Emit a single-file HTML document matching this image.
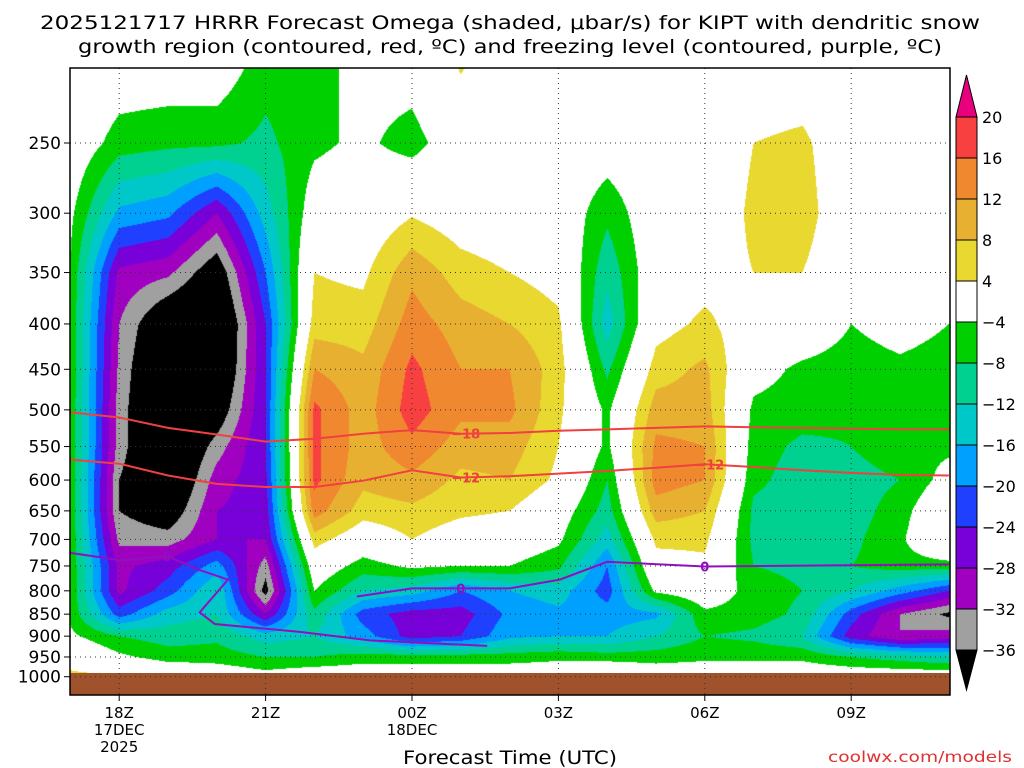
<!DOCTYPE html>
<html><head><meta charset="utf-8"><style>
body{margin:0;background:#fff;width:1024px;height:768px;overflow:hidden;font-family:"DejaVu Sans","Liberation Sans",sans-serif;}
#wrap{position:relative;width:1024px;height:768px;}
canvas{position:absolute;left:0;top:0;}
svg{position:absolute;left:0;top:0;}
</style></head><body>
<div id="wrap">
<canvas id="cv" width="1024" height="768"></canvas>
<svg id="sv" width="1024" height="768" font-family="DejaVu Sans, Liberation Sans, sans-serif">
<text x="40" y="29" font-size="19" textLength="940" lengthAdjust="spacingAndGlyphs">2025121717 HRRR Forecast Omega (shaded, μbar/s) for KIPT with dendritic snow</text>
<text x="78" y="53" font-size="19" textLength="864" lengthAdjust="spacingAndGlyphs">growth region (contoured, red, ºC) and freezing level (contoured, purple, ºC)</text>
<text x="403" y="764" font-size="19" textLength="214" lengthAdjust="spacingAndGlyphs">Forecast Time (UTC)</text>
<text x="828" y="762" font-size="15" fill="#e03030" textLength="184" lengthAdjust="spacingAndGlyphs">coolwx.com/models</text>
</svg>
</div>
<script>
// ---- data ----
const hours = [0,1,2,3,4,5,6,7,8,9,10,11,12,13,14,15,16,17,18];
const levels = [200,250,300,350,400,450,500,550,600,650,700,750,800,850,900,950,1000];
const omegaH0  = [2,0,-3,-4.5,-5,-5,-5,-5,-5,-5,-5,-5,-5,-5,-3,2,5];
const omegaH1  = [0,-6,-17,-29,-32,-33,-34,-34,-36,-36,-33,-29,-29,-22,-8,-3,5];
const omegaH2  = [0,-7,-19,-31,-42,-45,-45,-45,-44,-40,-34,-26,-22,-14,-10,-6,2];
const omegaH3  = [0,-7,-28,-40,-45,-44,-40,-34,-30,-28,-28,-18,-12,-12,-9,-6,0];
const omegaH4  = [-6,-9,-14,-20,-24,-24,-24,-24,-25,-26,-28,-34,-38,-28,-14,-8,-2];
const omegaH5  = [-6,-5,-1,4,6,12,17,17,17,14,6,0,-4,-9,-12,-8,0];
const omegaH6  = [-2,-3,0,3,6,9,10,10,9,6,0,-6,-12,-22,-18,-6,0];
const omegaH7  = [-1,-6,3.5,11,14,17,18,15,11,7,4,-3,-14,-26,-26,-6,0];
const omegaH8  = [5,0,1,6,10,12,13,10,7,5,1,-4,-20,-26,-24,-6,0];
const omegaH9  = [0,0,0,4,8,12,13,10,8,4,0,-4,-16,-19,-17,-6,0];
const omegaH10 = [0,0,0,2,5,6,5,4,3,-1,-3,-7,-14,-17,-16,-5,0];
const omegaH11 = [0,-1,-7,-11,-14,-9,-5,-5,-8,-10,-14,-20,-22,-18,-16,-6,3];
const omegaH12 = [0,0,0,0,2,6,10,13,14,10,5,2,-3,-17,-12,-6,0];
const omegaH13 = [0,0,0,2,5,9,10,12,12,8,5,3,0,-5,-8,-5,0];
const omegaH14 = [0,4,5,4,1,-2,-5,-6,-7,-9,-9,-8,-6,-6,-9,-5,0];
const omegaH15 = [0,5,6,4,0,-5,-6,-9,-10,-10,-10,-9,-8,-9,-12,-5,0];
const omegaH16 = [0,0,0,0,-4,-6,-7,-8,-10,-10,-9,-8,-12,-22,-26,-8,0];
const omegaH17 = [0,0,0,0,-2,-5,-5,-5,-8,-6,-5,-6,-18,-32,-32,-10,0];
const omegaH18 = [0,0,0,-1,-4,-6,-6,-5,-2,2,4,-6,-24,-37,-30,-12,0];
const omegaCols = [omegaH0,omegaH1,omegaH2,omegaH3,omegaH4,omegaH5,omegaH6,omegaH7,omegaH8,omegaH9,omegaH10,omegaH11,omegaH12,omegaH13,omegaH14,omegaH15,omegaH16,omegaH17,omegaH18];
const isoMinus18 = [503,510,524,533,543,539,532,527,532,531,528,526,524,522,523,524,525,526,526];
const isoMinus12 = [569,575,593,606,611,611,601,585,596,594,590,586,581,576,580,585,589,592,593];
const freezeHoursA = [0,1.02,1.98,2.65,3.23,2.65,2.96,4.7,6.14,8.54];
const freezeLevelsA = [725,739,731,758,777,846,872,890,910,923];
const freezeHoursB = [5.87,7,9,10.03,11,12.08,13,18];
const freezeLevelsB = [812,795,795,777,742,747,751,747];
const yTicks = [250,300,350,400,450,500,550,600,650,700,750,800,850,900,950,1000];
const xTickHours = [1,4,7,10,13,16];
const xTickLabels = [["18Z","17DEC","2025"],["21Z"],["00Z","18DEC"],["03Z"],["06Z"],["09Z"]];
const cbLevels = [20,16,12,8,4,-4,-8,-12,-16,-20,-24,-28,-32,-36];
const cbColors = ["#f84040","#f08830","#e8b030","#e8d830","#ffffff","#00d000","#00d090","#00c8c8","#00a0ff","#2040ff","#7800d8","#a000c0","#a0a0a0"];

// ---- axes ----
const X0=70.4, PXH=48.8, PL=70, PR=950, PT=68, PB=695;
const xS = h => X0 + h*PXH;
const yS = p => 143 + Math.log(p/250)*385;
const pFromY = y => 250*Math.exp((y-143)/385);
function colorFor(v){
  if(v>=20) return [232,0,127];
  if(v<-36) return [0,0,0];
  for(let i=0;i<cbLevels.length-1;i++){ if(v<cbLevels[i] && v>=cbLevels[i+1]){const c=cbColors[i];return [parseInt(c.substr(1,2),16),parseInt(c.substr(3,2),16),parseInt(c.substr(5,2),16)];}}
  return [255,255,255];
}
const cv=document.getElementById('cv'), ctx=cv.getContext('2d');
ctx.fillStyle='#fff';ctx.fillRect(0,0,1024,768);
const W=PR-PL, H=PB-PT, img=ctx.createImageData(W,H);
const lnL=levels.map(p=>Math.log(p));
for(let j=0;j<H;j++){
  const lp=Math.log(pFromY(PT+j+0.5));
  let r=0; while(r<levels.length-2 && lp>lnL[r+1]) r++;
  let fy=(lp-lnL[r])/(lnL[r+1]-lnL[r]); fy=Math.max(0,Math.min(1,fy));
  for(let i=0;i<W;i++){
    let h=(PL+i+0.5-X0)/PXH; h=Math.max(0,Math.min(hours.length-1.0001,h));
    const c=Math.floor(h), fx=h-c;
    const a=omegaCols[c], b=omegaCols[c+1];
    const v=(a[r]*(1-fx)+b[r]*fx)*(1-fy)+(a[r+1]*(1-fx)+b[r+1]*fx)*fy;
    const col=colorFor(v), k=(j*W+i)*4;
    img.data[k]=col[0];img.data[k+1]=col[1];img.data[k+2]=col[2];img.data[k+3]=255;
  }
}
ctx.putImageData(img,PL,PT);

// ---- svg overlay ----
const NS="http://www.w3.org/2000/svg", sv=document.getElementById('sv');
function mk(tag,attrs,parent){const e=document.createElementNS(NS,tag);for(const k in attrs)e.setAttribute(k,attrs[k]);(parent||sv).appendChild(e);return e;}
const ground=mk('rect',{x:PL,y:673,width:W,height:PB-673,fill:'#a0522d'});


yTicks.forEach(p=>{
  const y=yS(p);
  const g=mk('line',{x1:PL,x2:PR,y1:y,y2:y,stroke:'#333','stroke-width':1,'stroke-dasharray':'1,4'});
  
  
  const t=mk('line',{x1:PL-6,x2:PL,y1:y,y2:y,stroke:'#000'});
  
  
  const l=mk('text',{x:61,y:y+6,'text-anchor':'end','font-size':17});
  l.textContent=p;
  
  
});
xTickHours.forEach((h,i)=>{
  const x=xS(h);
  const g=mk('line',{x1:x,x2:x,y1:PT,y2:PB,stroke:'#333','stroke-width':1,'stroke-dasharray':'1,4'});
  
  
  const t=mk('line',{x1:x,x2:x,y1:PB,y2:PB+6,stroke:'#000'});
  
  
  xTickLabels[i].forEach((s,k)=>{
    const l=mk('text',{x:x,y:PB+23+k*17,'text-anchor':'middle','font-size':15});
    l.textContent=s;
    
    
  });
});
function line(hs,ps,color,name){
  const pts=hs.map((h,i)=>xS(h).toFixed(1)+','+yS(ps[i]).toFixed(1)).join(' ');
  const e=mk('polyline',{points:pts,fill:'none',stroke:color,'stroke-width':2});
  
  
}
line(hours,isoMinus18,'#f04040','isotherm-minus-18');
line(hours,isoMinus12,'#f04040','isotherm-minus-12');
line(freezeHoursA,freezeLevelsA,'#9010c0','freezing-level-a');
line(freezeHoursB,freezeLevelsB,'#9010c0','freezing-level-b');
function clabel(x,y,txt,color,name){
  const t=mk('text',{x:x,y:y+5,'text-anchor':'middle','font-size':13,'font-weight':'bold',fill:color});
  t.textContent=txt;
  
  
}
clabel(xS(8.1),yS(isoMinus18[8]),'\u221218','#f04040','contour-label-minus-18');
clabel(xS(8.1),yS(isoMinus12[8]),'\u221212','#f04040','contour-label-minus-12');
clabel(xS(13.1),yS(isoMinus12[13]),'\u221212','#f04040','contour-label-minus-12-b');
clabel(xS(1.98),yS(731),'0','#9010c0','contour-label-0-a');
clabel(xS(8),yS(795),'0','#9010c0','contour-label-0-b');
clabel(xS(13),yS(751),'0','#9010c0','contour-label-0-c');
const frame=mk('rect',{x:PL,y:PT,width:W,height:H,fill:'none',stroke:'#000','stroke-width':1.5});


const CBX=956, CBW=21, CBT=117, CBS=41;
const cbTop=mk('polygon',{points:`${CBX},${CBT} ${CBX+CBW},${CBT} ${CBX+CBW/2},75`,fill:'#e8007f',stroke:'#000'});


cbColors.forEach((c,i)=>{
  const r=mk('rect',{x:CBX,y:CBT+i*CBS,width:CBW,height:CBS,fill:c,stroke:'#000'});
  
  
});
const cbBot=mk('polygon',{points:`${CBX},${CBT+13*CBS} ${CBX+CBW},${CBT+13*CBS} ${CBX+CBW/2},690`,fill:'#000',stroke:'#000'});


cbLevels.forEach((v,i)=>{
  const t=mk('text',{x:982,y:CBT+i*CBS+6,'font-size':16});
  t.textContent=v<0?'\u2212'+(-v):String(v);
  
  
});
</script>
</body></html>
